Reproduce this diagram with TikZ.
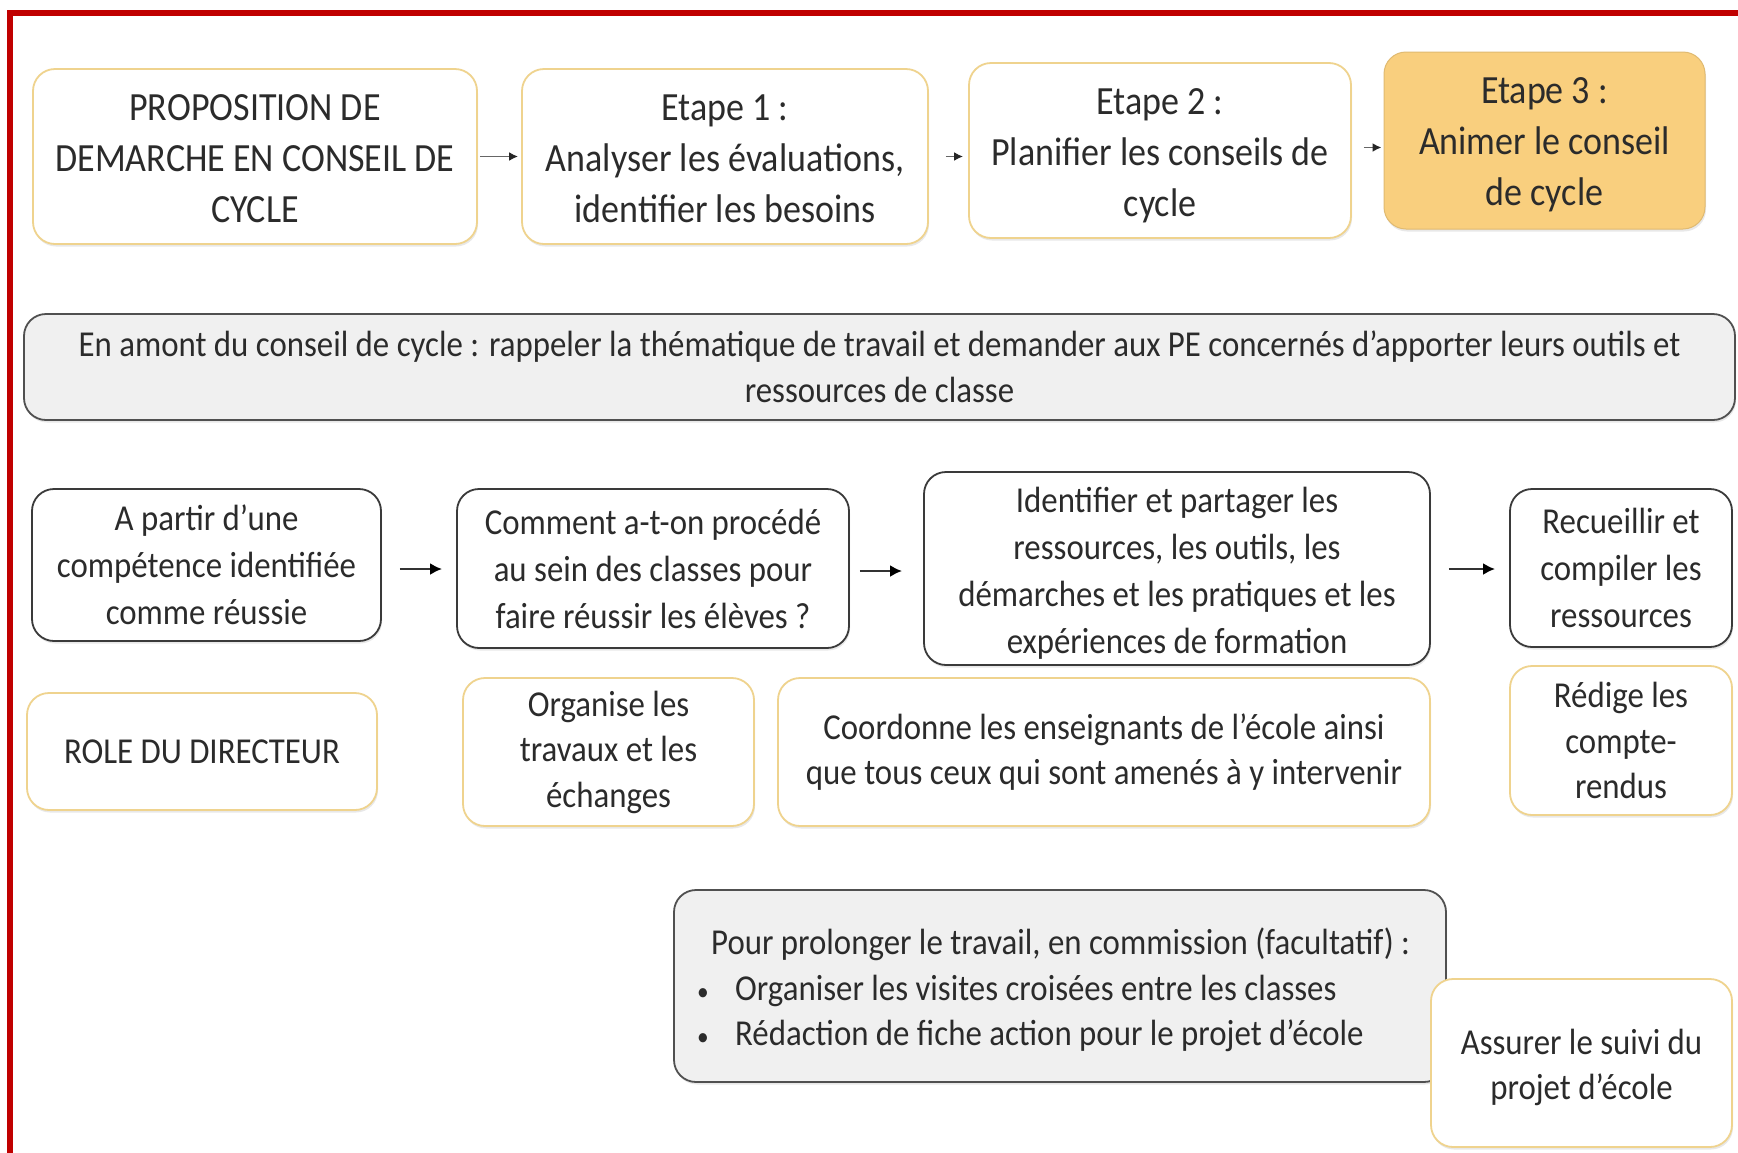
\documentclass[tikz,border=0pt]{standalone}
\usepackage{fontspec}
\setmainfont{Carlito}[FakeStretch=0.9]
\usetikzlibrary{arrows.meta,shadows,calc}
\definecolor{txt}{HTML}{2B2B2B}
\definecolor{oborder}{HTML}{EFD38E}
\definecolor{ofill}{HTML}{F9CF7E}
\definecolor{kborder}{HTML}{3A3A3A}
\definecolor{gborder}{HTML}{505050}
\definecolor{gfill}{HTML}{F0F0F0}
\definecolor{frame}{HTML}{C00000}
\newcommand\tdown[1]{\rule{0pt}{#1}}
\tikzset{
  box/.style={rounded corners=22pt, align=center, inner sep=0pt, text=txt,
    drop shadow={shadow xshift=1pt, shadow yshift=-2.5pt, opacity=0.18}},
  obox/.style={box, draw=oborder, line width=1.8pt, fill=white},
  fbox/.style={box, draw=ofill!90!black, line width=1pt, fill=ofill},
  kbox/.style={box, draw=kborder, line width=1.8pt, fill=white},
  gbox/.style={box, draw=gborder, line width=1.8pt, fill=gfill},
  big/.style={font=\fontsize{40}{51}\selectfont},
  mid/.style={font=\fontsize{36.5}{47}\selectfont},
  sml/.style={font=\fontsize{36.5}{45.5}\selectfont},
  garrow/.style={draw=black!60, line width=1.8pt, -{Latex[length=9pt,width=9pt,color=black!85]}},
  karrow/.style={draw=black!80, line width=2.6pt, -{Latex[length=12pt,width=12pt,color=black]}},
}
\begin{document}
\begin{tikzpicture}[x=1pt,y=-1pt]
\useasboundingbox (0,0) rectangle (1738,1152);
\fill[white] (0,0) rectangle (1738,1152);
\draw[frame, line width=6pt] (10,1160) -- (10,12.5) -- (1745,12.5);
% top row
\node[obox, big, minimum width=444pt, minimum height=175pt] (A) at (255,156.5)
  {\tdown{30pt}PROPOSITION DE\\DEMARCHE EN CONSEIL DE\\CYCLE};
\node[obox, big, minimum width=406pt, minimum height=175pt] (B) at (725,156.5)
  {\tdown{30pt}Etape 1 :\\Analyser les évaluations,\\identifier les besoins};
\node[obox, big, minimum width=382pt, minimum height=175pt] (C) at (1160,150.5)
  {\tdown{37pt}Etape 2 :\\Planifier les conseils de\\cycle};
\node[fbox, big, minimum width=321pt, minimum height=177pt] (D) at (1544.5,140.5)
  {\tdown{35pt}Etape 3 :\\Animer le conseil\\de cycle};
\coordinate (ab) at (A.east);
\coordinate (bc) at (B.east);
\coordinate (cd) at ($(C.east)+(0,-3)$);
\draw[garrow, shorten <=2pt, shorten >=3pt] (ab) -- (ab -| B.west);
\draw[garrow, shorten <=17pt, shorten >=5pt] (bc) -- (bc -| C.west);
\draw[garrow, shorten <=12pt, shorten >=2pt] (cd) -- (cd -| D.west);
% context box
\node[gbox, sml, minimum width=1711pt, minimum height=106pt] (E) at (879.5,367)
  {En amont du conseil de cycle : rappeler la thématique de travail et demander aux PE concernés d’apporter leurs outils et\\ressources de classe};
% middle row
\node[kbox, mid, minimum width=349pt, minimum height=152pt] (F) at (206.5,565)
  {A partir d’une\\compétence identifiée\\comme réussie};
\node[kbox, mid, minimum width=392pt, minimum height=159pt] (G) at (653,568.5)
  {Comment a-t-on procédé\\au sein des classes pour\\faire réussir les élèves ?};
\node[kbox, mid, minimum width=506pt, minimum height=193pt] (H) at (1177,568.5)
  {\tdown{34.5pt}Identifier et partager les\\ressources, les outils, les\\démarches et les pratiques et les\\expériences de formation};
\node[kbox, mid, minimum width=222pt, minimum height=158pt] (I) at (1621,568)
  {Recueillir et\\compiler les\\ressources};
\coordinate (fg) at (F.east |- 0,569);
\coordinate (gh) at (G.east |- 0,571);
\coordinate (hi) at (H.east |- 0,569);
\draw[karrow, shorten <=18pt, shorten >=14pt] (fg) -- (fg -| G.west);
\draw[karrow, shorten <=10pt, shorten >=21pt] (gh) -- (gh -| H.west);
\draw[karrow, shorten <=18pt, shorten >=14pt] (hi) -- (hi -| I.west);
% director row
\node[obox, sml, minimum width=350pt, minimum height=117pt] (J) at (202,751.5)
  {ROLE DU DIRECTEUR};
\node[obox, sml, minimum width=291pt, minimum height=148pt] (K) at (608.5,752)
  {Organise les\\travaux et les\\échanges};
\node[obox, sml, minimum width=652pt, minimum height=148pt] (L) at (1104,752)
  {Coordonne les enseignants de l’école ainsi\\que tous ceux qui sont amenés à y intervenir};
\node[obox, sml, minimum width=222pt, minimum height=149pt] (M) at (1621,740.5)
  {Rédige les\\compte-\\rendus};
% bottom
\node[gbox, minimum width=772pt, minimum height=192pt] (N) at (1060,986) {};
\node[sml, text=txt, align=left, anchor=west, inner sep=0pt] (Nt) at (697,990)
  {\hspace*{14pt}Pour prolonger le travail, en commission (facultatif) :\\
   \makebox[14pt][l]{\fontsize{26}{26}\selectfont\textbullet}\hspace{24pt}Organiser les visites croisées entre les classes\\
   \makebox[14pt][l]{\fontsize{26}{26}\selectfont\textbullet}\hspace{24pt}Rédaction de fiche action pour le projet d’école};
\node[obox, sml, minimum width=301pt, minimum height=168pt] (O) at (1581.5,1063)
  {\tdown{34.5pt}Assurer le suivi du\\projet d’école};
\end{tikzpicture}
\end{document}
